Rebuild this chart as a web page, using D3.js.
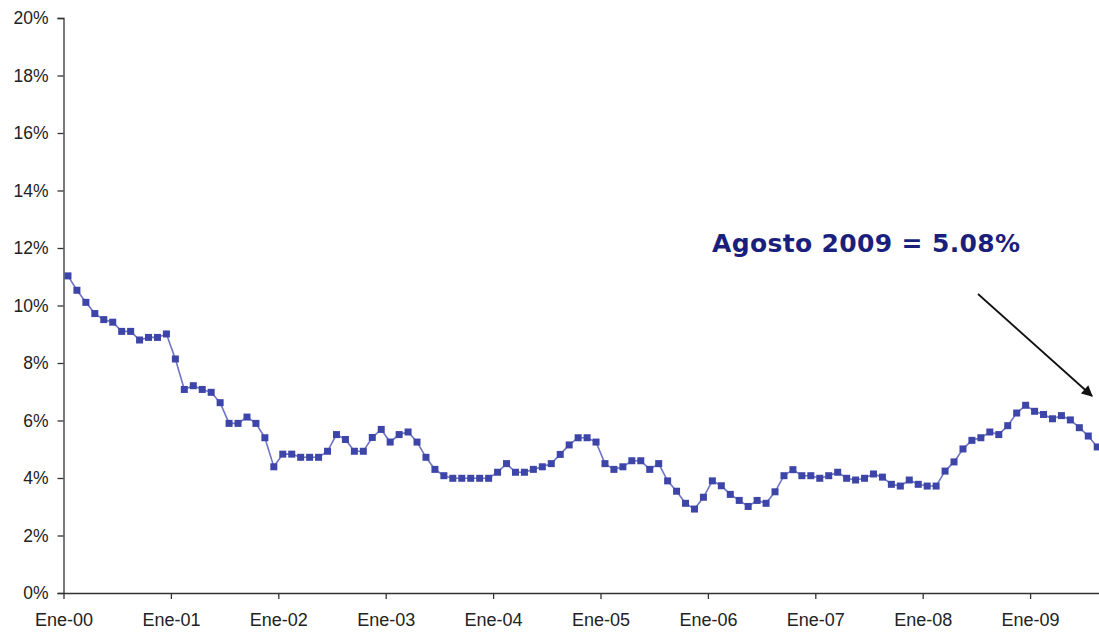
<!DOCTYPE html>
<html><head><meta charset="utf-8">
<script src="https://cdn.jsdelivr.net/npm/d3@7"></script>
<style>html,body{margin:0;padding:0;background:#fff;}svg{display:block;}</style>
</head><body>
<svg id="c" width="1099" height="635"></svg>
<script>
// Monthly rate (%), Ene-2000 .. Ago-2009
const values2000 = [11.03,10.53,10.11,9.72,9.51,9.42,9.10,9.10,8.80,8.89,8.89,9.01];
const values2001 = [8.14,7.08,7.21,7.08,6.98,6.62,5.90,5.90,6.12,5.90,5.40,4.39];
const values2002 = [4.83,4.83,4.72,4.72,4.72,4.93,5.51,5.34,4.93,4.93,5.41,5.69];
const values2003 = [5.25,5.51,5.60,5.25,4.72,4.30,4.08,3.99,3.99,3.99,3.99,3.99];
const values2004 = [4.20,4.50,4.20,4.20,4.30,4.39,4.50,4.82,5.15,5.40,5.40,5.25];
const values2005 = [4.50,4.30,4.39,4.60,4.60,4.30,4.50,3.90,3.54,3.12,2.92,3.33];
const values2006 = [3.90,3.73,3.43,3.22,3.01,3.22,3.12,3.52,4.08,4.29,4.08,4.08];
const values2007 = [3.99,4.08,4.20,3.99,3.93,3.99,4.14,4.03,3.78,3.72,3.93,3.78];
const values2008 = [3.72,3.72,4.24,4.56,5.01,5.31,5.40,5.60,5.51,5.82,6.26,6.53];
const values2009 = [6.32,6.21,6.06,6.17,6.02,5.75,5.46,5.08];
const tickLabels = ["Ene-00","Ene-01","Ene-02","Ene-03","Ene-04","Ene-05","Ene-06","Ene-07","Ene-08","Ene-09"];
const yTicks = [0,2,4,6,8,10,12,14,16,18,20];
const annotation = "Agosto 2009 = 5.08%";

const values = [].concat(values2000,values2001,values2002,values2003,values2004,values2005,values2006,values2007,values2008,values2009);
const nCats = 116;

const svg = d3.select("#c");
const x0 = 63.5, yBottom = 593, yTop = 18;
const x = d3.scaleLinear().domain([0, nCats]).range([x0, x0 + nCats*8.95]);
const y = d3.scaleLinear().domain([0, 20]).range([yBottom, yTop]);

// y axis
const yAxis = d3.axisLeft(y).tickValues(yTicks).tickSize(6).tickPadding(9).tickFormat(d => d + "%");
const gy = svg.append("g").attr("transform", `translate(${x0},0)`).call(yAxis);
gy.select(".domain").attr("stroke","#333").attr("stroke-width",1.3);
gy.selectAll(".tick line").attr("stroke","#333").attr("stroke-width",1.3);
gy.selectAll("text").attr("font-family","Liberation Sans, Arial, sans-serif").attr("font-size",17.5).attr("fill","#222");

// x axis
const xAxis = d3.axisBottom(x).tickValues(tickLabels.map((d,i)=>i*12)).tickSize(6).tickSizeOuter(0).tickPadding(14)
  .tickFormat((d,i)=>tickLabels[i]);
const gx = svg.append("g").attr("transform", `translate(0,${yBottom})`).call(xAxis);
gx.select(".domain").attr("stroke","#333").attr("stroke-width",1.3);
gx.selectAll(".tick line").attr("stroke","#333").attr("stroke-width",1.3);
gx.selectAll("text").attr("font-family","Liberation Sans, Arial, sans-serif").attr("font-size",18).attr("fill","#222");

// line
const line = d3.line().x((d,i)=>x(i+0.5)).y(d=>y(d));
svg.append("path").datum(values).attr("d", line).attr("fill","none")
  .attr("stroke","#6f74c4").attr("stroke-width",1.6);

const ms = 7;
svg.append("g").selectAll("rect").data(values).join("rect")
  .attr("x",(d,i)=>x(i+0.5)-ms/2).attr("y",d=>y(d)-ms/2)
  .attr("width",ms).attr("height",ms).attr("fill","#3d45a8");

// annotation
svg.append("text").attr("x",712).attr("y",252)
  .attr("font-family","DejaVu Sans, Verdana, sans-serif").attr("font-weight","bold")
  .attr("font-size",25).attr("textLength",308).attr("lengthAdjust","spacing")
  .attr("fill","#1b1f7c").text(annotation);

// arrow
const defs = svg.append("defs");
defs.append("marker").attr("id","ah").attr("viewBox","0 0 10 10").attr("refX",9).attr("refY",5)
  .attr("markerWidth",13).attr("markerHeight",11).attr("markerUnits","userSpaceOnUse").attr("orient","auto")
  .append("path").attr("d","M0,0 L10,5 L0,10 Z").attr("fill","#111");
svg.append("line").attr("x1",978).attr("y1",294).attr("x2",1092).attr("y2",396)
  .attr("stroke","#111").attr("stroke-width",1.8).attr("marker-end","url(#ah)");
</script>
</body></html>
